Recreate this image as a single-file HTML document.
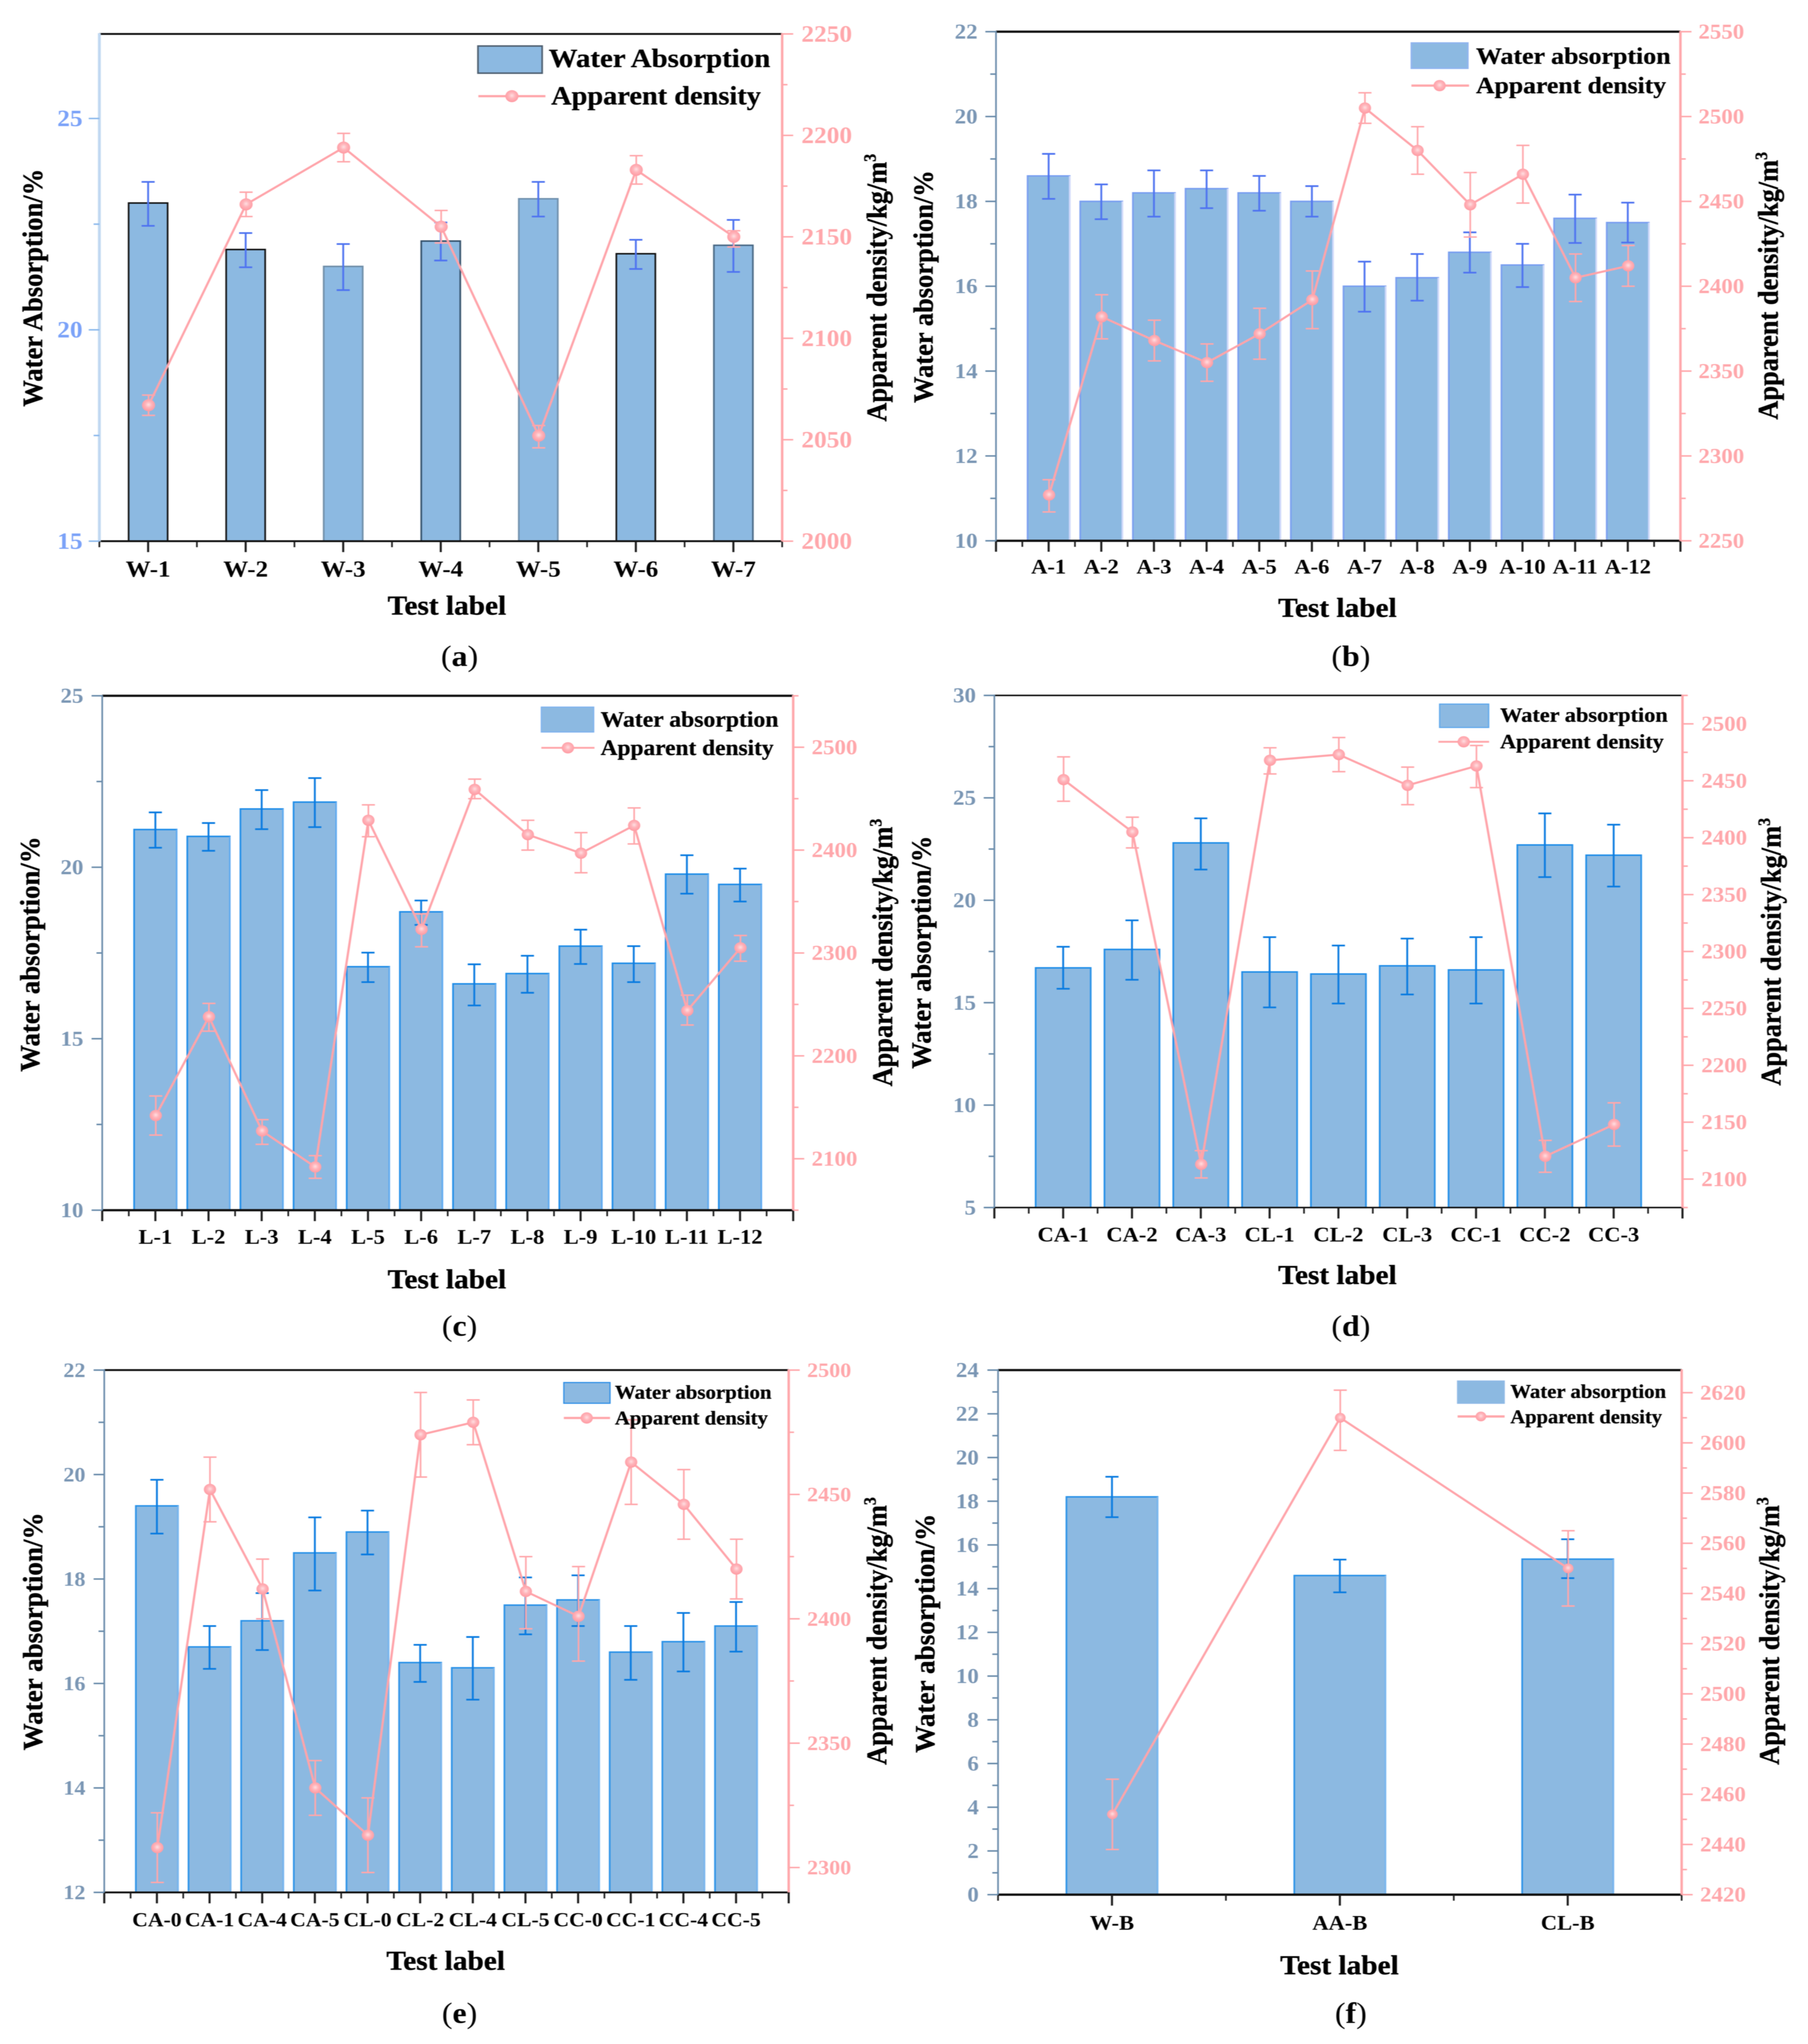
<!DOCTYPE html>
<html lang="en">
<head>
<meta charset="utf-8">
<title>Water absorption and apparent density of test groups</title>
<style>
html,body{margin:0;padding:0;background:#fff;width:100%;height:100%;overflow:hidden;}
svg{display:block;overflow:hidden;width:100vw;height:100vh;}
text{font-family:"Liberation Serif",serif;}
.content{filter:blur(1px);}
.title{font-weight:bold;fill:#000;stroke:#000;stroke-width:0.8;text-anchor:middle;}
.leg{font-weight:bold;fill:#000;stroke:#000;stroke-width:0.6;}
.cap{fill:#000;text-anchor:middle;font-size:78px;}
.cap tspan{font-weight:bold;}
</style>
</head>
<body>
<svg xmlns="http://www.w3.org/2000/svg" viewBox="0 0 4422 5420" preserveAspectRatio="none">
<defs>
<radialGradient id="marker-grad" cx="50%" cy="45%" r="55%">
<stop offset="0%" stop-color="#ffdfe2"/><stop offset="45%" stop-color="#ffb4ba"/><stop offset="100%" stop-color="#ff9aa2"/>
</radialGradient>
</defs>
<rect x="0" y="0" width="4422" height="5420" fill="#ffffff"/>
<g class="content">

<!-- Panel a -->
<g>
<g id="plot-a"></g>
<text class="title" font-size="69" transform="translate(103 763) rotate(-90)" textLength="631" lengthAdjust="spacingAndGlyphs">Water Absorption/%</text>
<text class="title" font-size="70" transform="translate(2168 763) rotate(-90)">Apparent density/kg/m<tspan font-size="42" dy="-26">3</tspan></text>
<text class="title" font-size="72" x="1093" y="1630" textLength="290" lengthAdjust="spacingAndGlyphs">Test label</text>
<g>
<rect x="1169" y="122" width="157" height="72" fill="#8cb9e1" stroke="#4e5f70" stroke-width="4"/>
<text class="leg" font-size="70" x="1342" y="178" textLength="542" lengthAdjust="spacingAndGlyphs">Water Absorption</text>
<line x1="1170" y1="255" x2="1334" y2="255" stroke="#ffa7ab" stroke-width="6"/>
<circle cx="1252" cy="255" r="16" fill="url(#marker-grad)"/>
<text class="leg" font-size="70" x="1348" y="277" textLength="513" lengthAdjust="spacingAndGlyphs">Apparent density</text>
</g>
<text class="cap" x="1124" y="1766">(<tspan>a</tspan>)</text>
</g>

<!-- Panel b -->
<g>
<g id="plot-b"></g>
<text class="title" font-size="68" transform="translate(2281 760) rotate(-90)" textLength="617" lengthAdjust="spacingAndGlyphs">Water absorption/%</text>
<text class="title" font-size="70" transform="translate(4348 758) rotate(-90)">Apparent density/kg/m<tspan font-size="42" dy="-26">3</tspan></text>
<text class="title" font-size="72" x="3271" y="1636" textLength="290" lengthAdjust="spacingAndGlyphs">Test label</text>
<g>
<rect x="3452" y="114" width="138" height="67" fill="#8cb9e1" stroke="#8fb4ee" stroke-width="4"/>
<text class="leg" font-size="62" x="3610" y="169" textLength="476" lengthAdjust="spacingAndGlyphs">Water absorption</text>
<line x1="3452" y1="227" x2="3593" y2="227" stroke="#ffa7ab" stroke-width="6"/>
<circle cx="3521" cy="227" r="15" fill="url(#marker-grad)"/>
<text class="leg" font-size="62" x="3610" y="247" textLength="465" lengthAdjust="spacingAndGlyphs">Apparent density</text>
</g>
<text class="cap" x="3304" y="1766">(<tspan>b</tspan>)</text>
</g>

<!-- Panel c -->
<g>
<g id="plot-c"></g>
<text class="title" font-size="68" transform="translate(96 2530) rotate(-90)" textLength="624" lengthAdjust="spacingAndGlyphs">Water absorption/%</text>
<text class="title" font-size="70" transform="translate(2182 2526) rotate(-90)">Apparent density/kg/m<tspan font-size="42" dy="-26">3</tspan></text>
<text class="title" font-size="72" x="1093" y="3416" textLength="290" lengthAdjust="spacingAndGlyphs">Test label</text>
<g>
<rect x="1324" y="1875" width="128" height="66" fill="#8cb9e1" stroke="#7fb2ee" stroke-width="3"/>
<text class="leg" font-size="58" x="1469" y="1927" textLength="435" lengthAdjust="spacingAndGlyphs">Water absorption</text>
<line x1="1324" y1="1983" x2="1454" y2="1983" stroke="#ffa7ab" stroke-width="5"/>
<circle cx="1389" cy="1983" r="15" fill="url(#marker-grad)"/>
<text class="leg" font-size="58" x="1469" y="2002" textLength="423" lengthAdjust="spacingAndGlyphs">Apparent density</text>
</g>
<text class="cap" x="1124" y="3542">(<tspan>c</tspan>)</text>
</g>

<!-- Panel d -->
<g>
<g id="plot-d"></g>
<text class="title" font-size="68" transform="translate(2276 2525) rotate(-90)" textLength="618" lengthAdjust="spacingAndGlyphs">Water absorption/%</text>
<text class="title" font-size="70" transform="translate(4355 2524) rotate(-90)">Apparent density/kg/m<tspan font-size="42" dy="-26">3</tspan></text>
<text class="title" font-size="72" x="3271" y="3405" textLength="290" lengthAdjust="spacingAndGlyphs">Test label</text>
<g>
<rect x="3521" y="1867" width="120" height="62" fill="#8cb9e1" stroke="#5ea8ec" stroke-width="3"/>
<text class="leg" font-size="54" x="3669" y="1914" textLength="410" lengthAdjust="spacingAndGlyphs">Water absorption</text>
<line x1="3518" y1="1967" x2="3642" y2="1967" stroke="#ffa7ab" stroke-width="5"/>
<circle cx="3580" cy="1967" r="15" fill="url(#marker-grad)"/>
<text class="leg" font-size="54" x="3669" y="1984" textLength="400" lengthAdjust="spacingAndGlyphs">Apparent density</text>
</g>
<text class="cap" x="3304" y="3542">(<tspan>d</tspan>)</text>
</g>

<!-- Panel e -->
<g>
<g id="plot-e"></g>
<text class="title" font-size="68" transform="translate(103 4326) rotate(-90)" textLength="631" lengthAdjust="spacingAndGlyphs">Water absorption/%</text>
<text class="title" font-size="70" transform="translate(2168 4325) rotate(-90)">Apparent density/kg/m<tspan font-size="42" dy="-26">3</tspan></text>
<text class="title" font-size="72" x="1090" y="5223" textLength="290" lengthAdjust="spacingAndGlyphs">Test label</text>
<g>
<rect x="1379" y="3666" width="113" height="55" fill="#8cb9e1" stroke="#2f8fe6" stroke-width="3"/>
<text class="leg" font-size="52" x="1504" y="3709" textLength="383" lengthAdjust="spacingAndGlyphs">Water absorption</text>
<line x1="1379" y1="3760" x2="1492" y2="3760" stroke="#ffa7ab" stroke-width="6"/>
<circle cx="1435" cy="3760" r="15" fill="url(#marker-grad)"/>
<text class="leg" font-size="52" x="1504" y="3777" textLength="374" lengthAdjust="spacingAndGlyphs">Apparent density</text>
</g>
<text class="cap" x="1124" y="5364">(<tspan>e</tspan>)</text>
</g>

<!-- Panel f -->
<g>
<g id="plot-f"></g>
<text class="title" font-size="68" transform="translate(2285 4331) rotate(-90)" textLength="634" lengthAdjust="spacingAndGlyphs">Water absorption/%</text>
<text class="title" font-size="70" transform="translate(4351 4325) rotate(-90)">Apparent density/kg/m<tspan font-size="42" dy="-26">3</tspan></text>
<text class="title" font-size="72" x="3276" y="5235" textLength="290" lengthAdjust="spacingAndGlyphs">Test label</text>
<g>
<rect x="3565" y="3662" width="114" height="59" fill="#8cb9e1" stroke="#8fb9e6" stroke-width="3"/>
<text class="leg" font-size="52" x="3694" y="3707" textLength="381" lengthAdjust="spacingAndGlyphs">Water absorption</text>
<line x1="3565" y1="3756" x2="3680" y2="3756" stroke="#ffa7ab" stroke-width="6"/>
<circle cx="3622" cy="3756" r="13" fill="url(#marker-grad)"/>
<text class="leg" font-size="52" x="3694" y="3774" textLength="371" lengthAdjust="spacingAndGlyphs">Apparent density</text>
</g>
<text class="cap" x="3304" y="5364">(<tspan>f</tspan>)</text>
</g>
</g>
</svg>

<script>
// ---------- Panel a data ----------
const aCategories = ['W-1','W-2','W-3','W-4','W-5','W-6','W-7'];
const aWater = [23.0,21.9,21.5,22.1,23.1,21.8,22.0];
const aWaterHigh = [23.5,22.29,22.03,22.54,23.5,22.13,22.6];
const aWaterLow = [22.46,21.48,20.94,21.64,22.68,21.44,21.37];
const aDensity = [2067,2166,2194,2155,2052,2183,2150];
const aDensityHigh = [2072,2172,2201,2163,2057,2190,2153];
const aDensityLow = [2062,2160,2187,2147,2046,2176,2145];
const aLeftTicks = [15,20,25];
const aLeftMinor = [17.5,22.5];
const aRightTicks = [2000,2050,2100,2150,2200,2250];
const aRightMinor = [2025,2075,2125,2175,2225];

// ---------- Panel b data ----------
const bCategories = ['A-1','A-2','A-3','A-4','A-5','A-6','A-7','A-8','A-9','A-10','A-11','A-12'];
const bWater = [18.6,18.0,18.2,18.3,18.2,18.0,16.0,16.2,16.8,16.5,17.6,17.5];
const bWaterHigh = [19.12,18.4,18.73,18.73,18.6,18.36,16.58,16.76,17.27,17.0,18.16,17.97];
const bWaterLow = [18.06,17.58,17.64,17.84,17.78,17.64,15.4,15.66,16.32,15.98,17.02,17.03];
const bDensity = [2277,2382,2368,2355,2372,2392,2505,2480,2448,2466,2405,2412];
const bDensityHigh = [2286,2395,2380,2366,2387,2409,2514,2494,2467,2483,2419,2424];
const bDensityLow = [2267,2369,2356,2344,2357,2375,2496,2466,2429,2449,2391,2400];
const bLeftTicks = [10,12,14,16,18,20,22];
const bLeftMinor = [11,13,15,17,19,21];
const bRightTicks = [2250,2300,2350,2400,2450,2500,2550];
const bRightMinor = [2275,2325,2375,2425,2475,2525];

// ---------- Panel c data ----------
const cCategories = ['L-1','L-2','L-3','L-4','L-5','L-6','L-7','L-8','L-9','L-10','L-11','L-12'];
const cWater = [21.1,20.9,21.7,21.9,17.1,18.7,16.6,16.9,17.7,17.2,19.8,19.5];
const cWaterHigh = [21.6,21.29,22.25,22.6,17.51,19.03,17.17,17.42,18.18,17.7,20.35,19.96];
const cWaterLow = [20.57,20.48,21.11,21.17,16.65,18.32,15.97,16.34,17.18,16.65,19.23,19.0];
const cDensity = [2142,2238,2127,2092,2429,2323,2459,2415,2397,2424,2244,2305];
const cDensityHigh = [2161,2251,2138,2103,2444,2338,2469,2429,2417,2441,2259,2317];
const cDensityLow = [2123,2224,2114,2081,2413,2306,2450,2400,2378,2406,2230,2292];
const cLeftTicks = [10,15,20,25];
const cLeftMinor = [12.5,17.5,22.5];
const cRightTicks = [2100,2200,2300,2400,2500];
const cRightMinor = [2050,2150,2250,2350,2450,2550];

// ---------- Panel d data ----------
const dCategories = ['CA-1','CA-2','CA-3','CL-1','CL-2','CL-3','CC-1','CC-2','CC-3'];
const dWater = [16.7,17.6,22.8,16.5,16.4,16.8,16.6,22.7,22.2];
const dWaterHigh = [17.73,19.02,24.0,18.2,17.79,18.13,18.2,24.24,23.69];
const dWaterLow = [15.68,16.12,21.5,14.77,14.96,15.4,14.96,21.13,20.67];
const dDensity = [2451,2405,2113,2468,2473,2446,2463,2120,2148];
const dDensityHigh = [2471,2418,2125,2479,2488,2462,2481,2134,2167];
const dDensityLow = [2432,2391,2101,2456,2458,2429,2444,2106,2129];
const dLeftTicks = [5,10,15,20,25,30];
const dLeftMinor = [7.5,12.5,17.5,22.5,27.5];
const dRightTicks = [2100,2150,2200,2250,2300,2350,2400,2450,2500];
const dRightMinor = [2075,2125,2175,2225,2275,2325,2375,2425,2475,2525];

// ---------- Panel e data ----------
const eCategories = ['CA-0','CA-1','CA-4','CA-5','CL-0','CL-2','CL-4','CL-5','CC-0','CC-1','CC-4','CC-5'];
const eWater = [19.4,16.7,17.2,18.5,18.9,16.4,16.3,17.5,17.6,16.6,16.8,17.1];
const eWaterHigh = [19.9,17.1,17.73,19.18,19.31,16.74,16.89,18.03,18.07,17.1,17.35,17.56];
const eWaterLow = [18.87,16.28,16.64,17.78,18.47,16.03,15.69,16.94,17.1,16.07,16.23,16.61];
const eDensity = [2308,2452,2412,2332,2313,2474,2479,2411,2401,2463,2446,2420];
const eDensityHigh = [2322,2465,2424,2343,2328,2491,2488,2425,2421,2480,2460,2432];
const eDensityLow = [2294,2439,2400,2321,2298,2457,2470,2396,2383,2446,2432,2408];
const eLeftTicks = [12,14,16,18,20,22];
const eLeftMinor = [13,15,17,19,21];
const eRightTicks = [2300,2350,2400,2450,2500];
const eRightMinor = [2325,2375,2425,2475];

// ---------- Panel f data ----------
const fCategories = ['W-B','AA-B','CL-B'];
const fWater = [18.2,14.6,15.35];
const fWaterHigh = [19.12,15.33,16.26];
const fWaterLow = [17.27,13.83,14.48];
const fDensity = [2452,2610,2550];
const fDensityHigh = [2466,2621,2565];
const fDensityLow = [2438,2597,2535];
const fLeftTicks = [0,2,4,6,8,10,12,14,16,18,20,22,24];
const fLeftMinor = [1,3,5,7,9,11,13,15,17,19,21,23];
const fRightTicks = [2420,2440,2460,2480,2500,2520,2540,2560,2580,2600,2620];
const fRightMinor = [2430,2450,2470,2490,2510,2530,2550,2570,2590,2610];

// ---------- Layout and styling ----------
const NS = 'http://www.w3.org/2000/svg';
const PINK = '#ffa7ab';
const panels = [
 {id:'a',cats:aCategories,water:aWater,wHi:aWaterHigh,wLo:aWaterLow,den:aDensity,dHi:aDensityHigh,dLo:aDensityLow,
  lt:aLeftTicks,lm:aLeftMinor,rt:aRightTicks,rm:aRightMinor,
  L:243,R:1913,T:90,B:1435,yMin:15,yMax:27,dMin:2000,dMax:2250,xMin:0.5,xMax:7.5,barW:0.4,
  axisL:'#c0d8f2',axisW:7,tickL:'#8cb9ec',labelL:'#7ba2f8',font:62,labelEndL:202,labelStartR:1960,xBase:1529,
  topW:5,err:'#4f74f0',edges:['#111','#111','#6f8ea8','#33506a','#7090ad','#111','#4b6a86'],edgeR:null,mr:16},
 {id:'b',cats:bCategories,water:bWater,wHi:bWaterHigh,wLo:bWaterLow,den:bDensity,dHi:bDensityHigh,dLo:bDensityLow,
  lt:bLeftTicks,lm:bLeftMinor,rt:bRightTicks,rm:bRightMinor,
  L:2436,R:4110,T:84,B:1434,yMin:10,yMax:22,dMin:2250,dMax:2550,xMin:0,xMax:13,barW:0.8,
  axisL:'#6a8cab',axisW:4,tickL:'#6a8cab',labelL:'#7a96b4',font:56,labelEndL:2391,labelStartR:4154,xBase:1521,
  topW:6,err:'#4f74f0',edges:['#7a9ff0'],edgeR:'#d0d9fa',mr:15},
 {id:'c',cats:cCategories,water:cWater,wHi:cWaterHigh,wLo:cWaterLow,den:cDensity,dHi:cDensityHigh,dLo:cDensityLow,
  lt:cLeftTicks,lm:cLeftMinor,rt:cRightTicks,rm:cRightMinor,
  L:250,R:1940,T:1845,B:3209,yMin:10,yMax:25,dMin:2050,dMax:2550,xMin:0,xMax:13,barW:0.8,
  axisL:'#6a8cab',axisW:4,tickL:'#6a8cab',labelL:'#7a96b4',font:56,labelEndL:204,labelStartR:1985,xBase:3298,
  topW:6,err:'#0a7be0',edges:['#1f8de8'],edgeR:'#5faaf0',mr:15},
 {id:'d',cats:dCategories,water:dWater,wHi:dWaterHigh,wLo:dWaterLow,den:dDensity,dHi:dDensityHigh,dLo:dDensityLow,
  lt:dLeftTicks,lm:dLeftMinor,rt:dRightTicks,rm:dRightMinor,
  L:2432,R:4115,T:1844,B:3202,yMin:5,yMax:30,dMin:2075,dMax:2525,xMin:0,xMax:10,barW:0.8,
  axisL:'#6a8cab',axisW:4,tickL:'#6a8cab',labelL:'#7a96b4',font:56,labelEndL:2387,labelStartR:4161,xBase:3292,
  topW:4,err:'#0a7be0',edges:['#1f8de8'],edgeR:'#2a92e8',mr:15},
 {id:'e',cats:eCategories,water:eWater,wHi:eWaterHigh,wLo:eWaterLow,den:eDensity,dHi:eDensityHigh,dLo:eDensityLow,
  lt:eLeftTicks,lm:eLeftMinor,rt:eRightTicks,rm:eRightMinor,
  L:255,R:1929,T:3633,B:5018,yMin:12,yMax:22,dMin:2290,dMax:2500,xMin:0,xMax:13,barW:0.8,
  axisL:'#6a8cab',axisW:4,tickL:'#6a8cab',labelL:'#7a96b4',font:54,labelEndL:209,labelStartR:1974,xBase:5108,
  topW:5,err:'#0a7be0',edges:['#2a92e8'],edgeR:'#7ab6ee',mr:15},
 {id:'f',cats:fCategories,water:fWater,wHi:fWaterHigh,wLo:fWaterLow,den:fDensity,dHi:fDensityHigh,dLo:fDensityLow,
  lt:fLeftTicks,lm:fLeftMinor,rt:fRightTicks,rm:fRightMinor,
  L:2441,R:4113,T:3633,B:5024,yMin:0,yMax:24,dMin:2420,dMax:2629,xMin:0.5,xMax:3.5,barW:0.4,
  axisL:'#6a8cab',axisW:4,tickL:'#6a8cab',labelL:'#7a96b4',font:56,labelEndL:2394,labelStartR:4158,xBase:5117,
  topW:6,err:'#0a7be0',edges:['#2a92e8'],edgeR:'#7ab6ee',mr:13}
];

function mk(tag, attrs, parent) {
  const node = document.createElementNS(NS, tag);
  for (const k in attrs) node.setAttribute(k, attrs[k]);
  parent.appendChild(node);
  return node;
}

function drawPanel(p) {
  const root = document.getElementById('plot-' + p.id);
  const sx = v => p.L + (v - p.xMin) / (p.xMax - p.xMin) * (p.R - p.L);
  const sy = v => p.B - (v - p.yMin) / (p.yMax - p.yMin) * (p.B - p.T);
  const sd = v => p.B - (v - p.dMin) / (p.dMax - p.dMin) * (p.B - p.T);
  const step = (p.R - p.L) / (p.xMax - p.xMin);
  const halfBar = step * p.barW / 2;
  const capHalf = 16;

  // bars
  p.cats.forEach(function (cat, i) {
    const cx = sx(i + 1);
    const edge = p.edges[i % p.edges.length];
    const bar = mk('rect', {x: cx - halfBar, y: sy(p.water[i]), width: halfBar * 2, height: p.B - sy(p.water[i]), fill: '#8cb9e1', stroke: edge, 'stroke-width': 4}, root);
    
    
    if (p.edgeR) {
      const side = mk('line', {x1: cx + halfBar, x2: cx + halfBar, y1: sy(p.water[i]), y2: p.B, stroke: p.edgeR, 'stroke-width': 4}, root);
      
      
    }
  });

  // water error bars
  p.cats.forEach(function (cat, i) {
    const cx = sx(i + 1);
    const d = 'M' + (cx - capHalf) + ' ' + sy(p.wHi[i]) + 'H' + (cx + capHalf) + 'M' + cx + ' ' + sy(p.wHi[i]) + 'V' + sy(p.wLo[i]) + 'M' + (cx - capHalf) + ' ' + sy(p.wLo[i]) + 'H' + (cx + capHalf);
    const err = mk('path', {d: d, fill: 'none', stroke: p.err, 'stroke-width': 4.5}, root);
    
    
  });

  // density error bars
  p.cats.forEach(function (cat, i) {
    const cx = sx(i + 1) + 1;
    const d = 'M' + (cx - capHalf) + ' ' + sd(p.dHi[i]) + 'H' + (cx + capHalf) + 'M' + cx + ' ' + sd(p.dHi[i]) + 'V' + sd(p.dLo[i]) + 'M' + (cx - capHalf) + ' ' + sd(p.dLo[i]) + 'H' + (cx + capHalf);
    const err = mk('path', {d: d, fill: 'none', stroke: PINK, 'stroke-width': 4}, root);
    
    
  });

  // density line
  const pts = p.den.map(function (v, i) { return (sx(i + 1) + 1) + ',' + sd(v); }).join(' ');
  const line = mk('polyline', {points: pts, fill: 'none', stroke: '#ffa4aa', 'stroke-width': 5.5}, root);
  
  

  // density markers
  p.cats.forEach(function (cat, i) {
    const m = mk('circle', {cx: sx(i + 1) + 1, cy: sd(p.den[i]), r: p.mr, fill: 'url(#marker-grad)'}, root);
    
    
  });

  // frame lines
  const top = mk('line', {x1: p.L, x2: p.R, y1: p.T, y2: p.T, stroke: '#111', 'stroke-width': p.topW}, root);
  
  
  const bottom = mk('line', {x1: p.L, x2: p.R, y1: p.B, y2: p.B, stroke: '#111', 'stroke-width': p.topW}, root);
  
  
  const left = mk('line', {x1: p.L, x2: p.L, y1: p.T - 2, y2: p.B + 2, stroke: p.axisL, 'stroke-width': p.axisW}, root);
  
  
  const right = mk('line', {x1: p.R, x2: p.R, y1: p.T - 2, y2: p.B + 2, stroke: PINK, 'stroke-width': 6}, root);
  
  

  // x ticks: major at category positions and range ends, minor halfway
  for (let v = p.xMin; v <= p.xMax + 1e-6; v += 0.5) {
    const major = Number.isInteger(v);
    const t = mk('line', {x1: sx(v), x2: sx(v), y1: p.B, y2: p.B + (major ? 29 : 16), stroke: '#1a1a1a', 'stroke-width': major ? 5 : 4}, root);
    
    
  }

  // x tick labels
  p.cats.forEach(function (cat, i) {
    const lab = mk('text', {x: sx(i + 1), y: p.xBase, 'text-anchor': 'middle', 'font-size': p.font - 1, 'font-weight': 'bold', fill: '#000'}, root);
    lab.textContent = cat;
    
    
  });

  // left ticks and labels
  p.lt.forEach(function (v) {
    const t = mk('line', {x1: p.L - 26, x2: p.L, y1: sy(v), y2: sy(v), stroke: p.tickL, 'stroke-width': 4}, root);
    
    
    const lab = mk('text', {x: p.labelEndL, y: sy(v) + p.font * 0.33, 'text-anchor': 'end', 'font-size': p.font, 'font-weight': 'bold', fill: p.labelL}, root);
    lab.textContent = String(v);
    
    
  });
  p.lm.forEach(function (v) {
    const t = mk('line', {x1: p.L - 14, x2: p.L, y1: sy(v), y2: sy(v), stroke: p.tickL, 'stroke-width': 4}, root);
    
    
  });

  // right ticks and labels
  p.rt.forEach(function (v) {
    const t = mk('line', {x1: p.R, x2: p.R + 27, y1: sd(v), y2: sd(v), stroke: PINK, 'stroke-width': 4}, root);
    
    
    const lab = mk('text', {x: p.labelStartR, y: sd(v) + p.font * 0.33, 'text-anchor': 'start', 'font-size': p.font, 'font-weight': 'bold', fill: PINK}, root);
    lab.textContent = String(v);
    
    
  });
  p.rm.forEach(function (v) {
    const t = mk('line', {x1: p.R, x2: p.R + 13, y1: sd(v), y2: sd(v), stroke: PINK, 'stroke-width': 4}, root);
    
    
  });
}

panels.forEach(drawPanel);
</script>
</body>
</html>
